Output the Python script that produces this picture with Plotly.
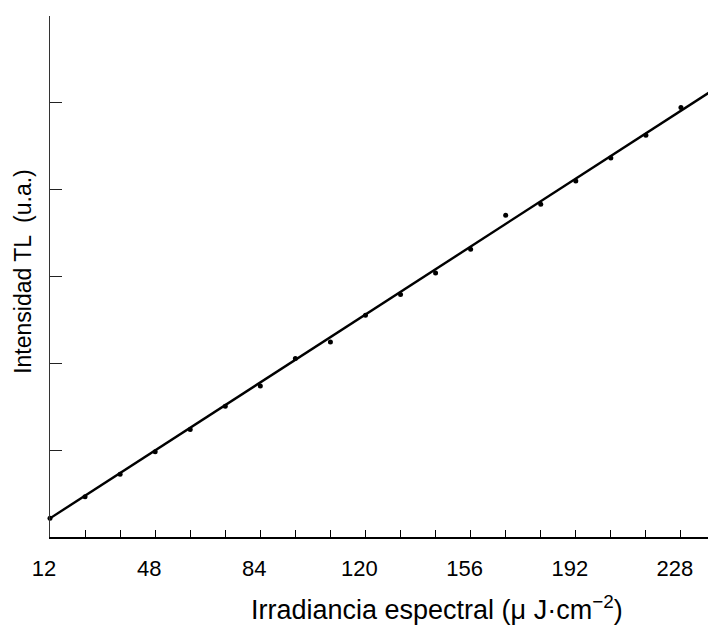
import plotly.graph_objects as go

# Data
irradiance = [12, 24, 36, 48, 60, 72, 84, 96, 108, 120, 132, 144, 156, 168, 180, 192, 204, 216, 228]
intensity = [0.215, 0.464, 0.722, 0.982, 1.239, 1.507, 1.738, 2.056, 2.247, 2.555,
             2.793, 3.041, 3.314, 3.705, 3.832, 4.100, 4.365, 4.626, 4.945]

fit_x = [12, 240]
fit_y = [0.215, 5.17]

x_tick_vals = [12, 24, 36, 48, 60, 72, 84, 96, 108, 120, 132, 144, 156, 168, 180, 192, 204, 216, 228]
x_tick_text = ["12", "", "", "48", "", "", "84", "", "", "120", "", "", "156", "", "", "192", "", "", "228"]
y_tick_vals = [0, 1, 2, 3, 4, 5, 6]

FONT = "Liberation Sans, Arial, sans-serif"

fig = go.Figure()
fig.add_trace(go.Scatter(x=fit_x, y=fit_y, mode="lines",
                         line=dict(color="black", width=2.4), showlegend=False,
                         cliponaxis=False))
fig.add_trace(go.Scatter(x=irradiance, y=intensity, mode="markers",
                         marker=dict(color="black", size=5, symbol="circle"),
                         showlegend=False, cliponaxis=False))

fig.update_layout(
    width=708, height=625,
    margin=dict(l=42, r=0, t=8, b=96),
    paper_bgcolor="white", plot_bgcolor="white",
    font=dict(family=FONT, color="black"),
    xaxis=dict(range=[12, 240], tickmode="array", tickvals=x_tick_vals, ticktext=x_tick_text,
               ticks="inside", ticklen=7, tickwidth=1.2, tickcolor="black",
               showline=True, linecolor="black", linewidth=1.5,
               showgrid=False, zeroline=False, ticklabelshift=-6, ticklabelstandoff=11,
               tickfont=dict(size=22, family=FONT)),
    yaxis=dict(range=[0, 6], tickmode="array", tickvals=y_tick_vals, showticklabels=False,
               ticks="inside", ticklen=12, tickwidth=1.2, tickcolor="#222",
               showline=True, linecolor="#333", linewidth=1.2,
               showgrid=False, zeroline=False),
)

fig.add_annotation(text="Irradiancia espectral (μ J·cm<sup>−2</sup>)",
                   xref="paper", yref="paper", x=0.581, y=0, yshift=-71,
                   xanchor="center", yanchor="middle", showarrow=False,
                   font=dict(size=27, family=FONT, color="black"))
fig.add_annotation(text="Intensidad TL  (u.a.)", textangle=-90,
                   xref="paper", yref="paper", x=0, y=0.509, xshift=-27,
                   xanchor="center", yanchor="middle", showarrow=False,
                   font=dict(size=23, family=FONT, color="black"))

fig.write_html("out.html")
